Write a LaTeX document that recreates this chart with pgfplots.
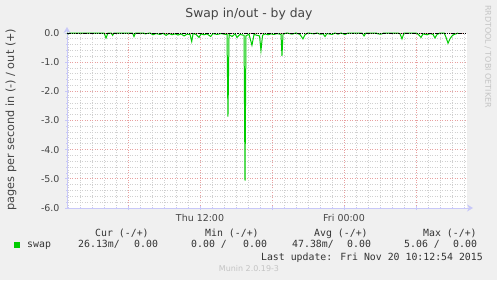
\documentclass[border=0pt]{standalone}
\usepackage{pgfplots}
\pgfplotsset{compat=1.18}
\usepackage{fontspec}
\setmainfont{DejaVu Sans}
\newfontfamily\monofont{DejaVu Sans Mono}
\usetikzlibrary{arrows.meta}
\definecolor{bg}{HTML}{F0F0F0}
\definecolor{txt}{HTML}{444444}
\definecolor{legtxt}{HTML}{333333}
\definecolor{gridminor}{HTML}{D0D0D0}
\definecolor{gridmajor}{HTML}{E8A0A0}
\definecolor{axisline}{HTML}{C8C8F8}
\definecolor{swapgreen}{HTML}{00CC00}
\definecolor{faint}{HTML}{C4C4C4}
\begin{document}
\begin{tikzpicture}[x=1bp,y=1bp]
\fill[bg] (0,0) rectangle (497,280);
\begin{axis}[
  at={(67bp,72bp)}, anchor=south west,
  scale only axis, width=400bp, height=175bp,
  xmin=0.917, xmax=34.25, ymin=-6, ymax=0,
  axis background/.style={fill=white},
  axis x line=bottom, axis y line=left,
  axis line style={axisline, line width=0.9bp},
  every outer x axis line/.append style={-{Stealth[length=6bp,width=7bp]}, shorten >=-6bp},
  every outer y axis line/.append style={-{Stealth[length=6bp,width=7bp]}, shorten >=-6bp},
  xtick={6,12,18,24,30}, xticklabels={,Thu 12:00,,Fri 00:00,},
  minor xtick={1,...,34},
  ytick={-6,-5,-4,-3,-2,-1,0},
  minor y tick num=4,
  grid=both,
  major grid style={gridmajor, line width=0.8bp, dash pattern=on 1bp off 1.5bp},
  minor grid style={gridminor, line width=0.8bp, dash pattern=on 1bp off 1.5bp},
  tick style={axisline, line width=0.8bp},
  major tick length=4bp, minor tick length=2bp, tick align=center,
  /pgf/number format/assume math mode=true,
  yticklabel style={/pgf/number format/fixed, /pgf/number format/fixed zerofill, /pgf/number format/precision=1, xshift=-2bp},
  ticklabel style={font=\fontsize{9.5}{10}\selectfont, color=txt},
  xticklabel style={yshift=-1bp},
  clip=false,
]
\addplot[swapgreen, line width=1bp] coordinates {
(0.917,0) (1.0,-0.03) (1.17,0) (4.0,0) (4.17,-0.17) (4.33,0) (4.6,0) (4.72,-0.08) (4.83,0)
(6.375,0) (6.5,-0.12) (6.625,0) (7.3,0) (7.42,-0.03) (7.83,0) (8.08,-0.06) (8.33,-0.02)
(8.67,-0.05) (8.92,-0.01) (9.17,-0.08) (9.42,-0.02) (9.67,-0.06) (9.92,-0.03) (10.17,-0.07)
(10.42,-0.03) (10.67,-0.1) (10.92,-0.04) (11.17,-0.05) (11.31,-0.29) (11.42,-0.02) (11.67,-0.05)
(11.92,-0.15) (12.08,-0.03) (12.33,-0.06) (12.58,-0.03) (12.89,-0.12) (13.08,-0.02) (13.42,-0.05)
(13.75,-0.02) (14.0,-0.04) (14.25,-0.05) (14.33,-2.87) (14.42,-0.05) (14.67,-0.12) (14.92,-0.03)
(15.08,-0.15) (15.33,-0.05) (15.67,-0.08) (15.75,-5.06) (15.83,-0.1) (16.08,-0.04) (16.33,-0.42)
(16.5,-0.05) (16.75,-0.08) (16.96,-0.1) (17.08,-0.6) (17.21,-0.08) (17.42,-0.03) (17.67,-0.06)
(17.92,-0.03) (18.17,-0.05) (18.42,-0.02) (18.75,-0.05) (18.83,-0.78) (18.92,-0.03) (19.25,0)
(19.67,-0.04) (20.0,0) (20.33,-0.05) (20.58,-0.2) (20.75,-0.06) (21.0,0) (21.5,-0.03) (21.75,0)
(22.0,-0.04) (22.25,-0.03) (22.42,-0.12) (22.58,-0.02) (23.0,-0.05) (23.25,0) (23.5,-0.04)
(23.75,0) (24.08,-0.05) (24.33,0) (25.5,0) (25.67,-0.1) (25.83,0) (26.7,0) (26.83,-0.03)
(27.08,-0.04) (27.33,0) (28.5,0) (28.67,-0.03) (28.83,-0.2) (29.0,0) (30.0,0) (30.17,-0.04)
(30.42,-0.15) (30.58,-0.03) (30.92,-0.06) (31.17,-0.02) (31.42,-0.05) (31.58,-0.17) (31.75,-0.05)
(32.0,0) (32.35,0) (32.5,-0.15) (32.67,-0.35) (32.83,-0.2) (33.0,-0.1) (33.17,-0.05) (33.33,-0.03)
(33.5,0)
};
\addplot[black, line width=1bp, dash pattern=on 1.5bp off 0.8bp] coordinates {(0.917,0) (34.25,0)};
\end{axis}
% title and labels
\node[anchor=base, font=\fontsize{12.4}{13}\selectfont, color=txt] at (249,263) {Swap in/out - by day};
\node[rotate=90, font=\fontsize{11.3}{12}\selectfont, color=txt] at (11,160.5) {pages per second in (-) / out (+)};
\node[rotate=-90, font=\fontsize{8}{9}\selectfont, color=faint] at (488,223.5) {RRDTOOL / TOBI OETIKER};
% legend
\begin{scope}[every node/.style={anchor=base west, inner sep=0pt, font=\monofont\fontsize{9.9}{11}\selectfont, color=legtxt}]
\node at (95,43.5) {Cur (-/+)};
\node at (205,43.5) {Min (-/+)};
\node at (314,43.5) {Avg (-/+)};
\node at (423,43.5) {Max (-/+)};
\node at (27,32.5) {swap};
\node at (78,32.5) {26.13m/};
\node at (134,32.5) {0.00};
\node at (191,32.5) {0.00 /};
\node at (243,32.5) {0.00};
\node at (292,32.5) {47.38m/};
\node at (347,32.5) {0.00};
\node at (404,32.5) {5.06 /};
\node at (453,32.5) {0.00};
\node[anchor=base east] at (483,19.5) {Last update: Fri Nov 20 10:12:54 2015};
\end{scope}
\fill[swapgreen] (14,32) rectangle (20,38);
\node[anchor=base, inner sep=0pt, font=\fontsize{8}{9}\selectfont, color=faint] at (249,8.5) {Munin 2.0.19-3};
\end{tikzpicture}
\end{document}
